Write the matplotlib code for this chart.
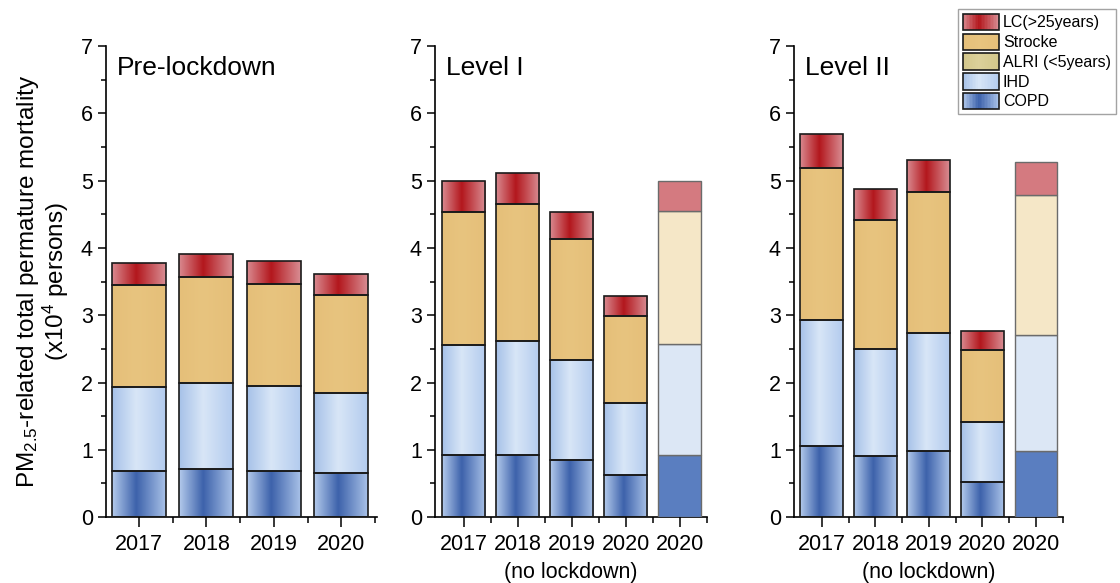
import numpy as np
import matplotlib
matplotlib.use("Agg")
import matplotlib.pyplot as plt
from matplotlib.colors import LinearSegmentedColormap
from matplotlib.patches import Rectangle
from matplotlib.legend_handler import HandlerBase

plt.rcParams['font.family'] = ['Liberation Sans', 'DejaVu Sans']
plt.rcParams['mathtext.fontset'] = 'custom'
plt.rcParams['mathtext.rm'] = 'Liberation Sans'
plt.rcParams['mathtext.it'] = 'Liberation Sans'

# data (x10^4 persons), stacked bottom -> top: COPD, IHD, Strocke, LC
pre_years = ['2017', '2018', '2019', '2020']
pre_copd = [0.69, 0.71, 0.69, 0.66]
pre_ihd = [1.25, 1.29, 1.26, 1.19]
pre_str = [1.51, 1.57, 1.52, 1.45]
pre_lc = [0.33, 0.34, 0.34, 0.32]

lv_years = ['2017', '2018', '2019', '2020', '2020']
l1_copd = [0.92, 0.93, 0.85, 0.62, 0.92]
l1_ihd = [1.64, 1.68, 1.48, 1.07, 1.66]
l1_str = [1.98, 2.04, 1.81, 1.30, 1.97]
l1_lc = [0.45, 0.46, 0.40, 0.30, 0.45]

l2_copd = [1.06, 0.91, 0.98, 0.52, 0.98]
l2_ihd = [1.87, 1.59, 1.75, 0.89, 1.73]
l2_str = [2.26, 1.92, 2.10, 1.08, 2.08]
l2_lc = [0.50, 0.45, 0.47, 0.27, 0.48]

legend_labels = ['LC(>25years)', 'Strocke', 'ALRI (<5years)', 'IHD', 'COPD']

# gradient colour ramps (left edge -> centre -> right edge)
ramp = {
    'COPD': ['#b4cbec', '#3d62ab', '#a9c2e8'],
    'IHD': ['#a6c1e8', '#d8e6f7', '#b3cbee'],
    'Strocke': ['#e5bf79', '#e8c47f', '#e5bf79'],
    'LC': ['#d98a90', '#b3171d', '#d98e94'],
    'ALRI': ['#d2c68a', '#dbd09a', '#d2c68a'],
}
cmaps = {k: LinearSegmentedColormap.from_list(k, [(0, v[0]), (0.45, v[1]), (1, v[2])])
         for k, v in ramp.items()}
# faded flat colours for the "no lockdown" scenario
faded = {'COPD': '#5a7ec0', 'IHD': '#dce7f5', 'Strocke': '#f5e7c7', 'LC': '#d47a80'}

grad = np.linspace(0, 1, 256).reshape(1, -1)


def grad_bar(ax, x, h, bottom, key, width=0.8):
    bars = ax.bar(x, h, width, bottom=bottom, facecolor='none',
                  edgecolor='#1a1a1a', linewidth=1.2, zorder=3)
    for p in bars:
        im = ax.imshow(grad, cmap=cmaps[key], aspect='auto', zorder=2,
                       extent=(p.get_x(), p.get_x() + p.get_width(),
                               p.get_y(), p.get_y() + p.get_height()))
        im.set_clip_path(p)


def panel(ax, years, copd, ihd, stro, lc, title, xlim, nolock=False):
    n = len(copd)
    x = np.arange(n)
    ng = n - 1 if nolock else n
    segs = [('COPD', copd), ('IHD', ihd), ('Strocke', stro), ('LC', lc)]
    bottom = np.zeros(n)
    for key, vals in segs:
        vals = np.array(vals)
        grad_bar(ax, x[:ng], vals[:ng], bottom[:ng], key)
        if nolock:
            ax.bar(x[ng:], vals[ng:], 0.8, bottom=bottom[ng:], color=faded[key],
                   edgecolor='#6b6b6b', linewidth=1.0, zorder=3)
        bottom = bottom + vals
    ax.set_xlim(*xlim)
    ax.set_ylim(0, 7)
    ax.set_yticks(range(8))
    ax.set_yticks(np.arange(0.5, 7, 1), minor=True)
    ax.set_xticks(x)
    ax.set_xticklabels(years, fontsize=15.5)
    ax.set_xticks(np.arange(0.5, n, 1), minor=True)
    ax.tick_params(axis='y', labelsize=15.5, width=1.1, length=6)
    ax.tick_params(axis='y', which='minor', width=1.1, length=3.5)
    ax.tick_params(axis='x', width=1.1, length=7, pad=5)
    ax.tick_params(axis='x', which='minor', width=1.1, length=4)
    for s in ['top', 'right']:
        ax.spines[s].set_visible(False)
    for s in ['left', 'bottom']:
        ax.spines[s].set_linewidth(1.2)
    ax.text(0.04, 0.953, title, transform=ax.transAxes, fontsize=19, va='center')
    if nolock:
        ax.text(0.5, -0.117, '(no lockdown)', transform=ax.transAxes,
                fontsize=15.5, ha='center', va='center')


class GradHandler(HandlerBase):
    def __init__(self, key):
        super().__init__()
        self.key = key

    def create_artists(self, legend, orig_handle, xdescent, ydescent, width,
                       height, fontsize, trans):
        arts = []
        m = 24
        for i in range(m):
            c = cmaps[self.key]((i + 0.5) / m)
            arts.append(Rectangle((-xdescent + width * i / m, -ydescent), width / m + 0.3,
                                  height, facecolor=c, edgecolor='none', transform=trans))
        arts.append(Rectangle((-xdescent, -ydescent), width, height, facecolor='none',
                              edgecolor='#1a1a1a', linewidth=1.2, transform=trans))
        return arts


fig = plt.figure(figsize=(11.2, 5.83), dpi=100)
ax1 = fig.add_axes([0.0946, 0.113, 0.242, 0.808])
ax2 = fig.add_axes([0.3884, 0.113, 0.243, 0.808])
ax3 = fig.add_axes([0.7089, 0.113, 0.240, 0.808])

panel(ax1, pre_years, pre_copd, pre_ihd, pre_str, pre_lc, 'Pre-lockdown', (-0.49, 3.53))
panel(ax2, lv_years, l1_copd, l1_ihd, l1_str, l1_lc, 'Level I', (-0.53, 4.51), nolock=True)
panel(ax3, lv_years, l2_copd, l2_ihd, l2_str, l2_lc, 'Level II', (-0.52, 4.50), nolock=True)

ax1.set_ylabel('PM$_{2.5}$-related total permature mortality\n(x10$^4$ persons)',
               fontsize=17.5, labelpad=7, linespacing=1.0)

keys = ['LC', 'Strocke', 'ALRI', 'IHD', 'COPD']
handles = [Rectangle((0, 0), 1, 1) for _ in keys]
fig.legend(handles, legend_labels, loc='upper right', bbox_to_anchor=(0.999, 0.99),
           fontsize=11.5, frameon=True, fancybox=False, edgecolor='#8c8c8c',
           handlelength=2.25, handleheight=1.2, labelspacing=0.2, handletextpad=0.25,
           borderpad=0.3, borderaxespad=0.2,
           handler_map={h: GradHandler(k) for h, k in zip(handles, keys)})

fig.savefig('out.png', dpi=100)
